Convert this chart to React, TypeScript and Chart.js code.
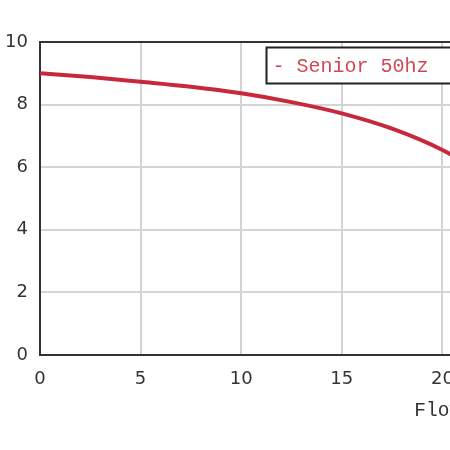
import { useEffect, useRef } from 'react'
import { Chart, registerables, ChartConfiguration, Plugin } from 'chart.js'

Chart.register(...registerables)

// flow values along the x axis, head values
const flow = [0, 2.5, 5, 7.5, 10, 12.5, 15, 17.5, 20, 22.5, 25]
const head = [9.0, 8.88, 8.73, 8.57, 8.36, 8.08, 7.72, 7.23, 6.55, 5.6, 4.5]
const seriesLabel = 'Senior 50hz'
const xTitle = 'Flow (m³/h)'

const MONO = '"Liberation Mono", "DejaVu Sans Mono", monospace'
const SANS = '"DejaVu Sans", sans-serif'

// boxed legend drawn inside the top right of the plot
const boxLegend: Plugin<'line'> = {
  id: 'boxLegend',
  afterDraw(chart) {
    const { ctx, chartArea } = chart
    const ds = chart.data.datasets[0]
    const x = chartArea.left + 226.5
    const y = chartArea.top + 5.5
    ctx.save()
    ctx.fillStyle = '#ffffff'
    ctx.fillRect(x, y, 220, 36)
    ctx.strokeStyle = '#222222'
    ctx.lineWidth = 2
    ctx.strokeRect(x, y, 220, 36)
    ctx.fillStyle = '#d04858'
    ctx.font = '20px ' + MONO
    ctx.textBaseline = 'middle'
    ctx.fillText('- ' + ds.label, x + 6, y + 19)
    ctx.restore()
  },
}

export default function App() {
  const chartRef = useRef<HTMLCanvasElement>(null)

  useEffect(() => {
    if (!chartRef.current) return
    const ctx = chartRef.current.getContext('2d')
    if (!ctx) return

    const config = {
      type: 'line',
      data: {
        datasets: [{
          label: seriesLabel,
          data: flow.map((f, i) => ({ x: f, y: head[i] })),
          borderColor: '#c8283c',
          borderWidth: 4,
          pointRadius: 0,
          tension: 0.4,
          cubicInterpolationMode: 'monotone',
          fill: false,
        }]
      },
      options: {
        responsive: false,
        animation: false,
        layout: { padding: { top: 42, right: 57, bottom: 27, left: 0 } },
        plugins: {
          legend: { display: false },
          tooltip: { enabled: false },
        },
        scales: {
          x: {
            type: 'linear',
            min: 0,
            max: 25,
            afterFit: (scale: any) => { scale.height = 68 },
            ticks: {
              stepSize: 5,
              padding: 14,
              color: '#333',
              font: { family: SANS, size: 18 },
            },
            grid: {
              drawTicks: false,
              color: '#d4d4d4',
              lineWidth: 2,
            },
            border: { display: true, color: '#333', width: 2 },
            title: {
              display: true,
              text: xTitle,
              align: 'end',
              color: '#333',
              font: { family: MONO, size: 19.5 },
              padding: { top: 4, bottom: 0 },
            },
          },
          y: {
            min: 0,
            max: 10,
            afterFit: (scale: any) => { scale.width = 40 },
            ticks: {
              stepSize: 2,
              padding: 12,
              color: '#333',
              font: { family: SANS, size: 18 },
            },
            grid: {
              drawTicks: false,
              color: (c: any) => (c.tick && c.tick.value === 10 ? '#333' : '#d4d4d4'),
              lineWidth: 2,
            },
            border: { display: true, color: '#333', width: 2 },
          },
        },
      },
      plugins: [boxLegend],
    } as ChartConfiguration<'line'>

    const chart = new Chart(ctx, config)
    return () => chart.destroy()
  }, [])

  return (
    <div style={{ position: 'fixed', left: 0, top: 0, width: 450, height: 450, overflow: 'hidden', background: '#fff' }}>
      <canvas ref={chartRef} width={600} height={450}></canvas>
    </div>
  )
}
